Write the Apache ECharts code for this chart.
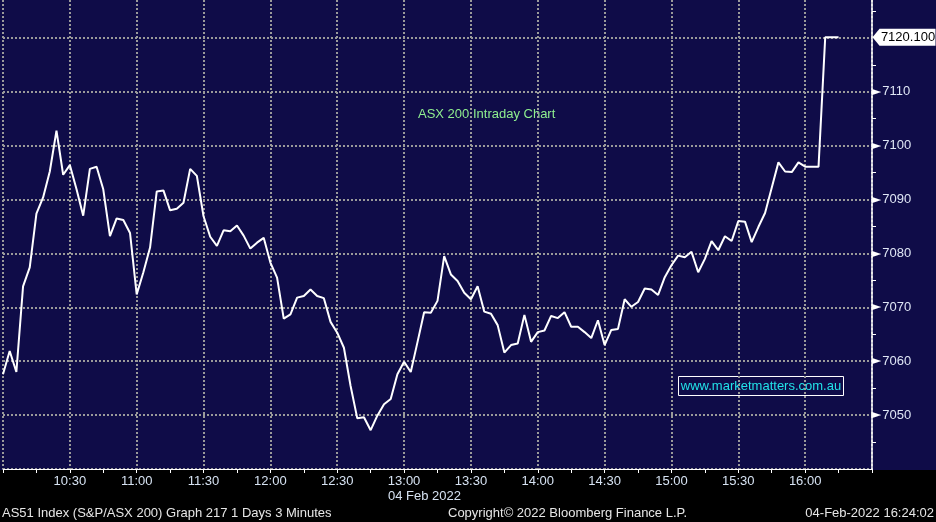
<!DOCTYPE html>
<html>
<head>
<meta charset="utf-8">
<style>
html,body{margin:0;padding:0;background:#0f0c48;overflow:hidden;width:936px;height:522px;}
#c{position:absolute;left:0;top:-16px;width:936px;height:538px;}
</style>
<script src="https://cdn.jsdelivr.net/npm/echarts@6/dist/echarts.min.js"></script>
</head>
<body>
<div id="c"></div>
<script>
// 3-minute bars, 10:00 -> 16:30 axis span
const categories = [];
for (let m = 600; m <= 990; m += 3) {
  const h = Math.floor(m / 60), mm = m % 60;
  categories.push(h + ':' + (mm < 10 ? '0' : '') + mm);
}
// AS51 index values, one per 3-minute bar from 10:00
const values = [
  7057.6, 7061.9, 7058.0, 7073.9, 7077.4, 7087.4, 7090.4, 7095.2, 7102.8, 7094.6,
  7096.4, 7091.9, 7087.0, 7095.7, 7096.1, 7091.9, 7083.2, 7086.5, 7086.2, 7083.8,
  7072.4, 7076.5, 7081.1, 7091.5, 7091.7, 7088.0, 7088.3, 7089.4, 7095.7, 7094.4,
  7086.9, 7083.1, 7081.4, 7084.3, 7084.1, 7085.2, 7083.3, 7080.9, 7082.0, 7082.9,
  7078.3, 7075.5, 7067.9, 7068.7, 7071.8, 7072.1, 7073.3, 7072.1, 7071.7, 7067.3,
  7065.3, 7062.5, 7055.4, 7049.4, 7049.6, 7047.2, 7049.9, 7052.0, 7053.0, 7057.6,
  7059.9, 7058.0, 7063.5, 7069.1, 7069.0, 7071.2, 7079.5, 7076.1, 7074.9, 7072.7,
  7071.5, 7073.9, 7069.2, 7068.8, 7066.7, 7061.6, 7063.0, 7063.3, 7068.6, 7063.6,
  7065.4, 7065.7, 7068.4, 7068.0, 7069.1, 7066.4, 7066.4, 7065.4, 7064.3, 7067.6,
  7063.0, 7065.8, 7066.0, 7071.5, 7070.1, 7071.0, 7073.5, 7073.3, 7072.3, 7075.6,
  7077.8, 7079.6, 7079.3, 7080.3, 7076.5, 7079.0, 7082.3, 7080.6, 7083.2, 7082.3,
  7086.0, 7085.9, 7082.1, 7084.9, 7087.5, 7092.2, 7096.9, 7095.2, 7095.1, 7096.9,
  7096.1, 7096.1, 7096.1, 7120.1, 7120.1, 7120.1
];
const hiddenTimeLabels = ['10:00', '16:30'];
const yTickLabels = [7050, 7060, 7070, 7080, 7090, 7100, 7110];
const lastValue = values[values.length - 1];

const FONT = "'Liberation Sans', Arial, sans-serif";
const OY = 16; // canvas is shifted up by 16px in the page
const chart = echarts.init(document.getElementById('c'), null, {renderer: 'canvas'});
chart.setOption({
  backgroundColor: '#0f0c48',
  animation: false,
  grid: {left: 0, right: 64, top: 0, bottom: 53, containLabel: false},
  xAxis: {
    type: 'category',
    data: categories,
    boundaryGap: false,
    axisLine: {show: true, lineStyle: {color: '#ffffff', width: 1}},
    axisTick: {show: true, interval: 4, length: 4, lineStyle: {color: '#ffffff'}},
    axisLabel: {
      interval: 9, margin: 6, color: '#d6e2f2', fontSize: 13, fontFamily: FONT,
      formatter: v => hiddenTimeLabels.indexOf(v) >= 0 ? '' : v
    },
    splitLine: {show: true, interval: 9, lineStyle: {color: '#9a9a9a', width: 2, type: [2, 2]}}
  },
  yAxis: {
    type: 'value',
    position: 'right',
    min: 7040, max: 7130, interval: 10,
    axisLine: {show: true, lineStyle: {color: '#ffffff', width: 1.5}},
    axisTick: {show: false},
    minorTick: {show: true, splitNumber: 2, length: 4, lineStyle: {color: '#ffffff'}},
    axisLabel: {
      margin: 0, fontFamily: FONT,
      formatter: v => yTickLabels.indexOf(Math.round(v)) >= 0 ? '{t|►}{v|' + Math.round(v) + '}' : '',
      rich: {
        t: {color: '#ffffff', fontSize: 12, fontFamily: 'DejaVu Sans', padding: [0, 1, 0, 0]},
        v: {color: '#dfe6f5', fontSize: 13, fontFamily: FONT}
      }
    },
    splitLine: {show: true, lineStyle: {color: '#9a9a9a', width: 2, type: [2, 2]}}
  },
  series: [{
    type: 'line',
    data: values,
    symbol: 'none',
    lineStyle: {color: '#ffffff', width: 2},
    markPoint: {
      symbol: 'path://M0,8.5L7,0L63,0L63,17L7,17Z',
      symbolSize: [63, 17],
      symbolOffset: [32, 0],
      itemStyle: {color: '#ffffff'},
      label: {
        show: true, position: 'inside', offset: [4, 0],
        color: '#000000', fontSize: 13, fontFamily: FONT,
        formatter: () => lastValue.toFixed(3)
      },
      data: [{coord: [categories.length - 1, lastValue]}]
    }
  }],
  graphic: [
    {type: 'rect', z: -1, shape: {x: 0, y: 470 + OY, width: 936, height: 52}, style: {fill: '#000000'}},
    {type: 'text', x: 418, y: 114 + OY, style: {text: 'ASX 200 Intraday Chart', fill: '#8fef8f', font: '13px ' + FONT, textVerticalAlign: 'middle'}},
    {type: 'rect', shape: {x: 678.5, y: 376.5 + OY, width: 165, height: 19}, style: {fill: '#0f0c48', stroke: '#ffffff', lineWidth: 1}},
    {type: 'text', x: 761, y: 386 + OY, style: {text: 'www.marketmatters.com.au', fill: '#22e2e8', font: '13px ' + FONT, textAlign: 'center', textVerticalAlign: 'middle'}},
    {type: 'text', x: 388, y: 496 + OY, style: {text: '04 Feb 2022', fill: '#d6e2f2', font: '13px ' + FONT, textVerticalAlign: 'middle'}},
    {type: 'text', x: 2, y: 513 + OY, style: {text: 'AS51 Index (S&P/ASX 200) Graph 217 1 Days 3 Minutes', fill: '#e6e6e6', font: '13px ' + FONT, textVerticalAlign: 'middle'}},
    {type: 'text', x: 448, y: 513 + OY, style: {text: 'Copyright\u00A9 2022 Bloomberg Finance L.P.', fill: '#e6e6e6', font: '13px ' + FONT, textVerticalAlign: 'middle'}},
    {type: 'text', x: 934, y: 513 + OY, style: {text: '04-Feb-2022 16:24:02', fill: '#e6e6e6', font: '13px ' + FONT, textAlign: 'right', textVerticalAlign: 'middle'}}
  ]
});
</script>
</body>
</html>
